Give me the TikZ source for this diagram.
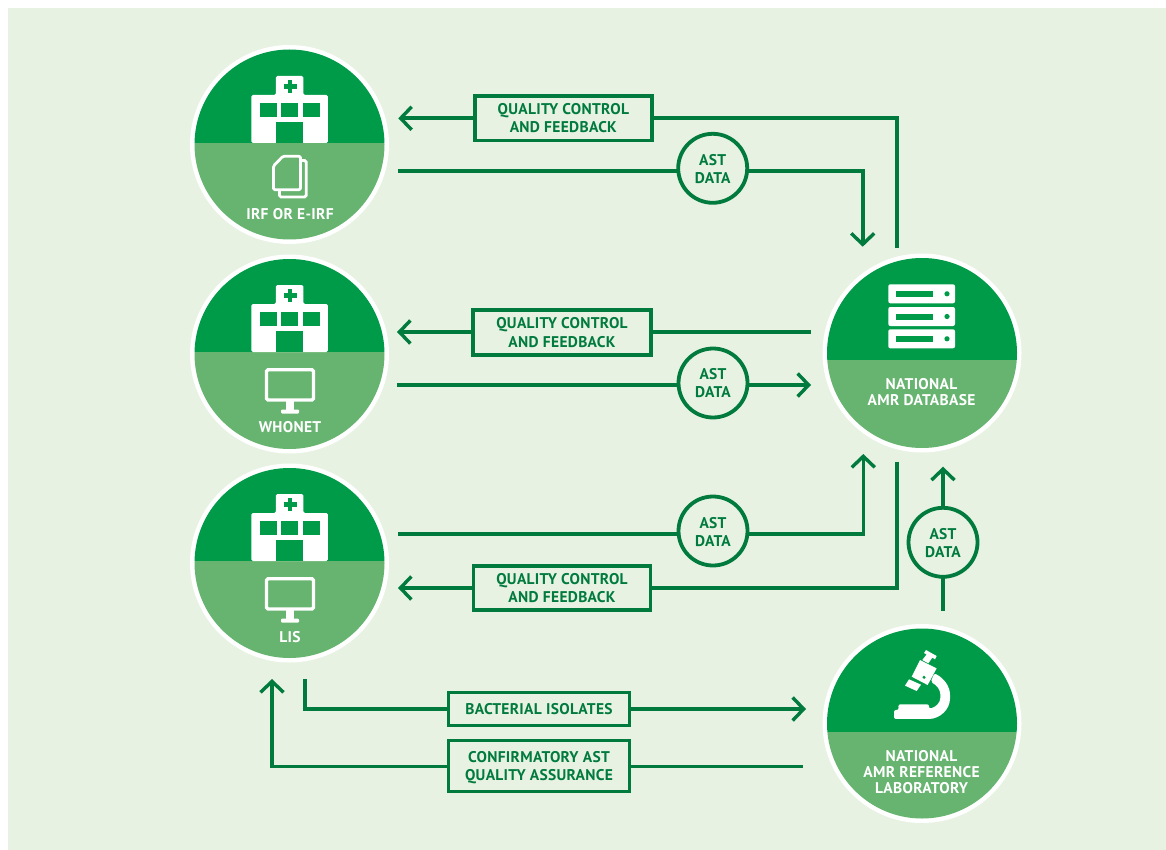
\documentclass[tikz,border=0pt]{standalone}
\usepackage{fontspec}
\setmainfont{PT Sans}[LetterSpace=2]
\usetikzlibrary{arrows.meta}
\definecolor{bgc}{HTML}{E7F2E2}
\definecolor{linec}{HTML}{007A3D}
\definecolor{topc}{HTML}{009B48}
\definecolor{lowc}{HTML}{66B470}
\newcommand{\downstrut}[1]{\rule{0pt}{#1pt}}
\tikzset{
  x=1pt,y=-1pt,
  flow/.style={draw=linec,line width=3.6pt,line join=miter},
  arrowflow/.style={flow,-{Straight Barb[length=11pt,width=23pt,line width=3.4pt]}},
  labelbox/.style={draw=linec,line width=3.8pt,fill=bgc,inner sep=0pt,align=center,text=linec,font=\fontsize{15.5}{18.2}\selectfont\bfseries},
  datadisc/.style={circle,draw=linec,line width=3.8pt,fill=bgc,minimum size=69pt,inner sep=0pt,align=center,text=linec,font=\fontsize{15.5}{18.2}\selectfont\bfseries},
  hublabel/.style={text=white,align=center,inner sep=0pt,font=\fontsize{15.5}{16}\selectfont\bfseries},
  hubdisc/.style={circle,fill=white,minimum size=199pt,inner sep=0pt},
  outline/.style={draw=white,line width=3.4pt,fill=none,rounded corners=1.5pt},
}
% name, cx, cy, split y
\newcommand{\hubdisc}[4]{%
  \node[hubdisc] (#1) at (#2,#3) {};
  \begin{scope}
    \clip (#2,#3) circle[radius=95pt];
    \fill[topc] (#2-100,#3-100) rectangle (#2+100,#4);
    \fill[lowc] (#2-100,#4) rectangle (#2+100,#3+100);
  \end{scope}
}
% hospital icon; origin: middle of its bottom edge
\newcommand{\hospitalicon}[2]{%
  \begin{scope}[shift={(#1,#2)}]
    \fill[white,rounded corners=1.5pt] (-38.5,0) -- (-38.5,-48) -- (-14,-48) -- (-14,-67) -- (13.5,-67) -- (13.5,-48) -- (38,-48) -- (38,0) -- cycle;
    \fill[topc] (-30,-40.3) rectangle (-13,-25.7);
    \fill[topc] (-9,-40.3) rectangle (8.5,-25.7);
    \fill[topc] (13,-40.3) rectangle (30,-25.7);
    \fill[topc] (-14,-21.3) rectangle (13.5,0);
    \fill[topc] (-6.2,-58.6) rectangle (6.8,-54.4);
    \fill[topc] (-2.1,-63) rectangle (2.4,-50);
  \end{scope}
}
% monitor icon; origin: top centre
\newcommand{\monitoricon}[2]{%
  \begin{scope}[shift={(#1,#2)}]
    \draw[outline] (-23.5,1.7) rectangle (23.5,32);
    \fill[white] (-4.3,33) rectangle (4.3,42);
    \fill[white,rounded corners=1pt] (-9,41.5) rectangle (9,45.5);
  \end{scope}
}
\newcommand{\servericon}[2]{%
  \begin{scope}[shift={(#1,#2)}]
    \fill[white,rounded corners=2pt] (888.3,0) rectangle (955,19);
    \fill[topc] (896,6.5) rectangle (933.3,12.5);
    \fill[topc] (947,9.5) circle[radius=2.6pt];
  \end{scope}
}
\begin{document}
\begin{tikzpicture}
\path[use as bounding box] (0,0) rectangle (1166,850);
\fill[white] (0,0) rectangle (1166,850);
\fill[bgc] (8,8) rectangle (1166,850);

% hubs
\hubdisc{irf}{289.5}{144.5}{143}
\hubdisc{whonet}{289.5}{354}{352}
\hubdisc{lis}{289.5}{563}{561}
\hubdisc{database}{922}{353}{360}
\hubdisc{reflab}{922}{723.5}{732}

\hospitalicon{289.8}{143}
\hospitalicon{289.8}{352}
\hospitalicon{289.8}{561}

% documents
\draw[outline,fill=none,line width=2.8pt] (301.5,160.5) -- (306.2,160.5) -- (306.2,197) -- (279.5,197) -- (279.5,191);
\draw[white,line width=2.8pt,rounded corners=1.5pt,line join=round] (283,156.2) -- (300.5,156.2) -- (300.5,189.8) -- (273.4,189.8) -- (273.4,166) -- cycle;

\monitoricon{290}{368}
\monitoricon{290}{577}

\servericon{0}{284.3}
\servericon{0}{307}
\servericon{0}{329.3}

% microscope
\begin{scope}[shift={(815,620)},x=0.3333pt,y=-0.3333pt]
  \fill[white,rounded corners=2pt] (237,297) -- (237,270) -- (251,270) -- (250,253) -- (342,253) -- (342,266)
    .. controls (362,262) and (376,248) .. (376,228)
    .. controls (376,210) and (365,195) .. (347,186)
    -- (358,160)
    .. controls (388,175) and (405,200) .. (405,230)
    .. controls (405,268) and (375,297) .. (335,297) -- cycle;
  \fill[white] (315,120) -- (365,145) -- (338,195) -- (290,170) -- cycle;
  \fill[white] (282,178) -- (318,194) -- (305,213) -- (270,197) -- cycle;
  \fill[white] (333,90) -- (365,108) -- (360,118) -- (352,113) -- (340,130) -- (322,120) -- (335,103) -- (327,99) -- cycle;
  \fill[topc] (327,172) circle[radius=5];
\end{scope}

% hub labels
\node[hublabel] (irftext) at (290,214) {IRF OR E-IRF};
\node[hublabel] (whonettext) at (290,427.5) {WHONET};
\node[hublabel] (listext) at (290,637) {LIS};
\node[hublabel] (dbtext) at (921.5,392) {NATIONAL\\AMR DATABASE};
\node[hublabel] (labtext) at (921.5,772) {NATIONAL\\AMR REFERENCE\\LABORATORY};

% free ends of the connectors
\coordinate (a1) at (398.3,118.3);
\coordinate (c1) at (896.7,118.3);
\coordinate (e1) at (896.7,247.7);
\coordinate (s1) at (398,171);
\coordinate (c2) at (862.7,171);
\coordinate (t1) at (862.7,246.7);
\coordinate (a2) at (397,332);
\coordinate (e2) at (811,332);
\coordinate (s2) at (397,385);
\coordinate (t2) at (811,385);
\coordinate (s3) at (398,534);
\coordinate (c3) at (863.3,534);
\coordinate (t3) at (863.3,454);
\coordinate (a3) at (398,588);
\coordinate (c4) at (896.7,588);
\coordinate (e3) at (896.7,461.7);
\coordinate (s4) at (943,610.7);
\coordinate (t4) at (943,466.7);
\coordinate (s5) at (305,679);
\coordinate (c5) at (305,709);
\coordinate (t5) at (806,709);
\coordinate (s6) at (803,766.5);
\coordinate (c6) at (272,766.5);
\coordinate (t6) at (272,679);

% connectors
\draw[arrowflow] (e1) -- (c1) -- (a1);
\draw[arrowflow] (s1) -- (c2) -- (t1);
\draw[arrowflow] (e2) -- (a2);
\draw[arrowflow] (s2) -- (t2);
\draw[arrowflow] (s3) -- (c3) -- (t3);
\draw[arrowflow] (e3) -- (c4) -- (a3);
\draw[arrowflow] (s4) -- (t4);
\draw[arrowflow] (s5) -- (c5) -- (t5);
\draw[arrowflow] (s6) -- (c6) -- (t6);

% labels on the connectors
\node[labelbox,minimum width=177pt,minimum height=44.5pt] (qc1) at (563.3,118.3) {QUALITY CONTROL\\AND FEEDBACK};
\node[labelbox,minimum width=178pt,minimum height=44.5pt] (qc2) at (562,332.5) {QUALITY CONTROL\\AND FEEDBACK};
\node[labelbox,minimum width=177pt,minimum height=43.5pt] (qc3) at (562,588) {QUALITY CONTROL\\AND FEEDBACK};
\node[datadisc] (ast1) at (712.7,168.3) {\downstrut{13}AST\\DATA};
\node[datadisc] (ast2) at (713,383) {AST\\DATA};
\node[datadisc] (ast3) at (713,531) {\downstrut{13}AST\\DATA};
\node[datadisc] (ast4) at (943,542.3) {\downstrut{13}AST\\DATA};
\node[labelbox,minimum width=181pt,minimum height=33pt] (iso) at (539,709) {BACTERIAL ISOLATES};
\node[labelbox,minimum width=181pt,minimum height=51pt] (conf) at (539,766) {\downstrut{15}CONFIRMATORY AST\\QUALITY ASSURANCE};
\end{tikzpicture}
\end{document}
